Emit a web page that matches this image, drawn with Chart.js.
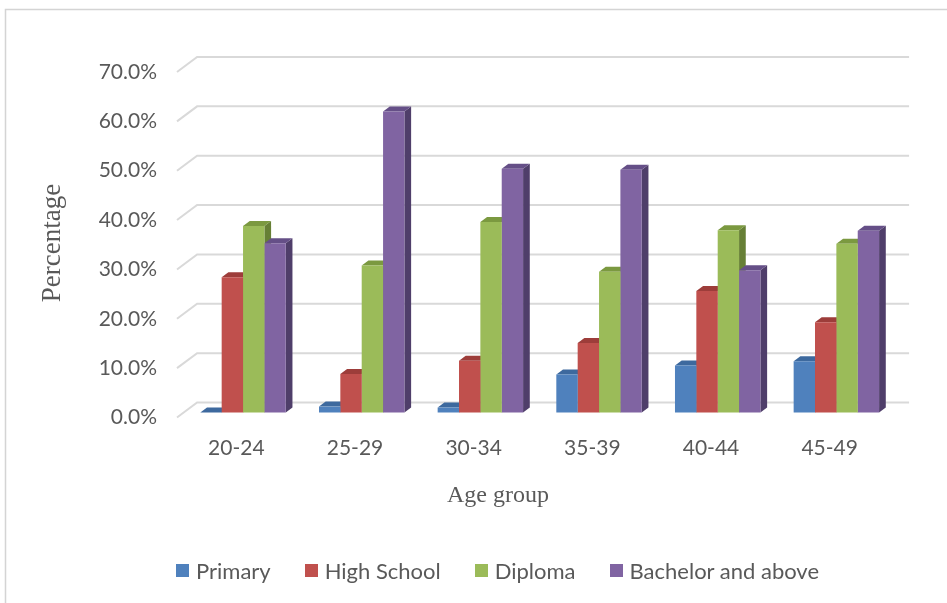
<!DOCTYPE html>
<html>
<head>
<meta charset="utf-8">
<title>Education level by age group</title>
<script src="https://cdn.jsdelivr.net/npm/chart.js@4.4.1/dist/chart.umd.min.js"></script>
<style>
  html, body { margin: 0; padding: 0; background: #ffffff; overflow: hidden; }
  #wrap { position: relative; width: 947px; height: 603px; }
  canvas { display: block; }
  #legend {
    position: absolute; left: 176px; top: 557px; height: 26px;
    margin: 0; padding: 0; list-style: none;
    display: flex; align-items: center;
    font-family: Lato, sans-serif; font-size: 22px; color: #595959;
  }
  #legend li { display: flex; align-items: center; margin-right: 34px; white-space: nowrap; }
  #legend .box { width: 13px; height: 13px; margin-right: 7px; }
</style>
</head>
<body>
<div id="wrap">
  <canvas id="chart" width="947" height="603"></canvas>
  <ul id="legend"></ul>
</div>
<script>
// ---- data -------------------------------------------------------------
const ageGroups = ['20-24', '25-29', '30-34', '35-39', '40-44', '45-49'];
const primary = [0.0, 1.2, 1.0, 7.7, 9.5, 10.4];
const highSchool = [27.4, 7.8, 10.5, 14.1, 24.6, 18.3];
const diploma = [37.8, 29.8, 38.6, 28.5, 36.9, 34.2];
const bachelorAndAbove = [34.3, 61.0, 49.4, 49.2, 28.8, 36.8];
const percentTicks = [0, 10, 20, 30, 40, 50, 60, 70];
const seriesNames = ['Primary', 'High School', 'Diploma', 'Bachelor and above'];

// ---- look -------------------------------------------------------------
const shades = [
  { front: '#4F81BD', top: '#3D699E', side: '#375C8A' },
  { front: '#C0504D', top: '#9D3D3A', side: '#8A3633' },
  { front: '#9BBB59', top: '#7B9940', side: '#667F35' },
  { front: '#8064A2', top: '#654F87', side: '#4F3E6A' }
];
const TEXT = '#595959';
const GRID = '#D9D9D9';
// oblique projection: one bar is DEPTH_X / DEPTH_Y deep, the floor is three bars deep
const DEPTH_X = 6.7, DEPTH_Y = -5;
const WALL_X = DEPTH_X * 3, WALL_Y = DEPTH_Y * 3;

const obliqueBars = {
  id: 'obliqueBars',
  beforeDraw(chart) {
    const { ctx, width, height } = chart;
    ctx.save();
    ctx.fillStyle = '#ffffff';
    ctx.fillRect(0, 0, width, height);
    ctx.strokeStyle = '#D4D4D4';
    ctx.lineWidth = 1.5;
    ctx.strokeRect(5.5, 9.5, width + 20, height + 20);
    ctx.restore();
  },
  beforeDatasetsDraw(chart) {
    const { ctx, chartArea } = chart;
    const yScale = chart.scales.y;
    // back-wall gridlines with their short diagonal across the floor edge
    ctx.save();
    ctx.strokeStyle = GRID;
    ctx.lineWidth = 2;
    percentTicks.forEach(v => {
      const py = yScale.getPixelForValue(v);
      ctx.beginPath();
      ctx.moveTo(chartArea.left, py);
      ctx.lineTo(chartArea.left + WALL_X, py + WALL_Y);
      ctx.lineTo(chartArea.right + WALL_X, py + WALL_Y);
      ctx.stroke();
    });
    ctx.restore();

    // top and side faces, left to right; the front faces are painted afterwards by Chart.js
    ctx.save();
    ctx.translate(DEPTH_X, DEPTH_Y);
    chart.data.datasets.forEach((ds, i) => {
      const meta = chart.getDatasetMeta(i);
      meta.data.forEach(bar => {
        const { x, y, base, width } = bar.getProps(['x', 'y', 'base', 'width'], true);
        const l = x - width / 2, r = x + width / 2;
        ctx.fillStyle = shades[i].side;
        ctx.beginPath();
        ctx.moveTo(r, y);
        ctx.lineTo(r + DEPTH_X, y + DEPTH_Y);
        ctx.lineTo(r + DEPTH_X, base + DEPTH_Y);
        ctx.lineTo(r, base);
        ctx.closePath();
        ctx.fill();
        ctx.fillStyle = shades[i].top;
        ctx.beginPath();
        ctx.moveTo(l, y);
        ctx.lineTo(l + DEPTH_X, y + DEPTH_Y);
        ctx.lineTo(r + DEPTH_X, y + DEPTH_Y);
        ctx.lineTo(r, y);
        ctx.closePath();
        ctx.fill();
      });
    });
    ctx.restore();
  },
  beforeDatasetDraw(chart) {
    chart.ctx.save();
    chart.ctx.translate(DEPTH_X, DEPTH_Y);
  },
  afterDatasetDraw(chart) {
    chart.ctx.restore();
  },
  afterDraw(chart) {
    const { ctx } = chart;
    ctx.save();
    ctx.fillStyle = TEXT;
    ctx.textAlign = 'center';
    ctx.textBaseline = 'middle';
    ctx.font = '24px "Liberation Serif", "Times New Roman", serif';
    ctx.fillText('Age group', 498, 496);
    ctx.translate(53, 243);
    ctx.rotate(-Math.PI / 2);
    ctx.font = '27px "Liberation Serif", "Times New Roman", serif';
    ctx.fillText('Percentage', 0, 0);
    ctx.restore();
  }
};

// legend as an HTML list built from the chart's own legend items
const htmlLegend = {
  id: 'htmlLegend',
  afterUpdate(chart) {
    const list = document.getElementById('legend');
    list.innerHTML = '';
    const items = chart.options.plugins.legend.labels.generateLabels(chart);
    items.forEach(item => {
      const li = document.createElement('li');
      const box = document.createElement('span');
      box.className = 'box';
      box.style.background = item.fillStyle;
      const text = document.createElement('span');
      text.textContent = item.text;
      li.appendChild(box);
      li.appendChild(text);
      list.appendChild(li);
    });
  }
};

const seriesValues = [primary, highSchool, diploma, bachelorAndAbove];

new Chart(document.getElementById('chart'), {
  type: 'bar',
  data: {
    labels: ageGroups,
    datasets: seriesValues.map((values, i) => ({
      label: seriesNames[i],
      data: values,
      backgroundColor: shades[i].front,
      borderWidth: 0,
      clip: false,
      categoryPercentage: 0.72,
      barPercentage: 1.0
    }))
  },
  options: {
    responsive: false,
    animation: false,
    devicePixelRatio: 1,
    layout: { padding: { left: 0, right: 58, top: 72, bottom: 0 } },
    plugins: {
      tooltip: { enabled: false },
      legend: { display: false }
    },
    scales: {
      x: {
        grid: { display: false, drawTicks: false },
        border: { display: false },
        ticks: { color: TEXT, padding: 18, font: { family: 'Lato', size: 21 } },
        afterFit(scale) { scale.height = 185.5; }
      },
      y: {
        min: 0,
        max: 70,
        grid: { display: false, drawTicks: false },
        border: { display: false },
        afterBuildTicks(scale) { scale.ticks = percentTicks.map(v => ({ value: v })); },
        ticks: {
          color: TEXT,
          padding: 20,
          font: { family: 'Lato', size: 21 },
          callback: v => v.toFixed(1) + '%'
        },
        afterFit(scale) { scale.width = 177; }
      }
    }
  },
  plugins: [obliqueBars, htmlLegend]
});
</script>
</body>
</html>
